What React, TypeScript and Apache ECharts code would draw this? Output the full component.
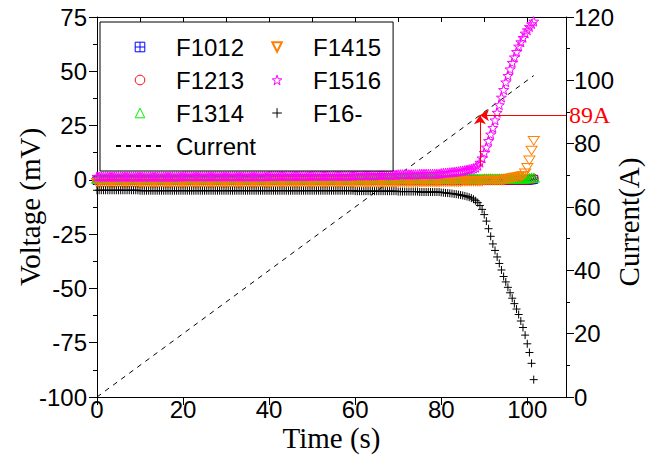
import React, { useEffect, useRef } from "react";
import * as echarts from "echarts";

// ---- data -------------------------------------------------------------
// Voltage samples (mV), one every SAMPLE_STEP_S seconds starting at t = 0
const SAMPLE_STEP_S = 0.5;

const f1012 = [
  -0.3, -0.3, -0.3, -0.3, -0.3, -0.3, -0.3, -0.3, -0.3, -0.3, // 0 s
  -0.3, -0.3, -0.3, -0.3, -0.3, -0.3, -0.3, -0.3, -0.3, -0.3, // 5 s
  -0.3, -0.3, -0.3, -0.3, -0.3, -0.3, -0.3, -0.3, -0.3, -0.3, // 10 s
  -0.3, -0.3, -0.3, -0.3, -0.3, -0.3, -0.3, -0.3, -0.3, -0.3, // 15 s
  -0.3, -0.3, -0.3, -0.3, -0.3, -0.3, -0.3, -0.3, -0.3, -0.3, // 20 s
  -0.3, -0.3, -0.3, -0.3, -0.3, -0.3, -0.3, -0.3, -0.3, -0.3, // 25 s
  -0.3, -0.3, -0.3, -0.3, -0.3, -0.3, -0.3, -0.3, -0.3, -0.3, // 30 s
  -0.3, -0.3, -0.3, -0.3, -0.3, -0.3, -0.3, -0.3, -0.3, -0.3, // 35 s
  -0.3, -0.3, -0.3, -0.3, -0.3, -0.3, -0.3, -0.3, -0.3, -0.3, // 40 s
  -0.3, -0.3, -0.3, -0.3, -0.3, -0.3, -0.3, -0.3, -0.3, -0.3, // 45 s
  -0.3, -0.3, -0.3, -0.3, -0.3, -0.3, -0.3, -0.3, -0.3, -0.3, // 50 s
  -0.3, -0.3, -0.3, -0.3, -0.3, -0.3, -0.3, -0.3, -0.3, -0.3, // 55 s
  -0.3, -0.3, -0.3, -0.3, -0.3, -0.3, -0.3, -0.3, -0.3, -0.3, // 60 s
  -0.3, -0.3, -0.3, -0.3, -0.3, -0.3, -0.3, -0.3, -0.3, -0.3, // 65 s
  -0.3, -0.3, -0.3, -0.3, -0.3, -0.3, -0.3, -0.3, -0.3, -0.3, // 70 s
  -0.3, -0.3, -0.3, -0.3, -0.3, -0.3, -0.3, -0.3, -0.3, -0.3, // 75 s
  -0.3, -0.3, -0.3, -0.3, -0.3, -0.3, -0.3, -0.3, -0.3, -0.3, // 80 s
  -0.3, -0.3, -0.3, -0.3, -0.3, -0.3, -0.3, -0.3, -0.3, -0.3, // 85 s
  -0.3, -0.3, -0.3, -0.3, -0.3, -0.3, -0.3, -0.3, -0.3, -0.3, // 90 s
  -0.3, -0.3, -0.3, -0.3, -0.3, -0.3, -0.3, -0.3, -0.3, -0.3, // 95 s
  -0.2, -0.1, 0, 0.2, // 100 s
];

const f1213 = [
  0.1, 0.1, 0.1, 0.1, 0.1, 0.1, 0.1, 0.1, 0.1, 0.1, // 0 s
  0.1, 0.1, 0.1, 0.1, 0.1, 0.1, 0.1, 0.1, 0.1, 0.1, // 5 s
  0.1, 0.1, 0.1, 0.1, 0.1, 0.1, 0.1, 0.1, 0.1, 0.1, // 10 s
  0.1, 0.1, 0.1, 0.1, 0.1, 0.1, 0.1, 0.1, 0.1, 0.1, // 15 s
  0.1, 0.1, 0.1, 0.1, 0.1, 0.1, 0.1, 0.1, 0.1, 0.1, // 20 s
  0.1, 0.1, 0.1, 0.1, 0.1, 0.1, 0.1, 0.1, 0.1, 0.1, // 25 s
  0.1, 0.1, 0.1, 0.1, 0.1, 0.1, 0.1, 0.1, 0.1, 0.1, // 30 s
  0.1, 0.1, 0.1, 0.1, 0.1, 0.1, 0.1, 0.1, 0.1, 0.1, // 35 s
  0.1, 0.1, 0.1, 0.1, 0.1, 0.1, 0.1, 0.1, 0.1, 0.1, // 40 s
  0.1, 0.1, 0.1, 0.1, 0.1, 0.1, 0.1, 0.1, 0.1, 0.1, // 45 s
  0.1, 0.1, 0.1, 0.1, 0.1, 0.1, 0.1, 0.1, 0.1, 0.1, // 50 s
  0.1, 0.1, 0.1, 0.1, 0.1, 0.1, 0.1, 0.1, 0.1, 0.1, // 55 s
  0.1, 0.1, 0.1, 0.1, 0.1, 0.1, 0.1, 0.1, 0.1, 0.1, // 60 s
  0.1, 0.1, 0.1, 0.1, 0.1, 0.1, 0.1, 0.1, 0.1, 0.1, // 65 s
  0.1, 0.1, 0.1, 0.1, 0.1, 0.1, 0.1, 0.1, 0.1, 0.1, // 70 s
  0.1, 0.1, 0.1, 0.1, 0.1, 0.1, 0.1, 0.1, 0.1, 0.1, // 75 s
  0.1, 0.1, 0.1, 0.1, 0.1, 0.1, 0.1, 0.1, 0.1, 0.1, // 80 s
  0.1, 0.1, 0.1, 0.1, 0.1, 0.1, 0.1, 0.1, 0.1, 0.1, // 85 s
  0.1, 0.1, 0.1, 0.1, 0.1, 0.1, 0.1, 0.1, 0.1, 0.1, // 90 s
  0.1, 0.1, 0.1, 0.1, 0.1, 0.1, 0.1, 0.1, 0.1, 0.1, // 95 s
  0.1, 0.2, 0.3, 0.5, // 100 s
];

const f1314 = [
  0.5, 0.5, 0.5, 0.5, 0.5, 0.5, 0.5, 0.5, 0.5, 0.5, // 0 s
  0.5, 0.5, 0.5, 0.5, 0.5, 0.5, 0.5, 0.5, 0.5, 0.5, // 5 s
  0.5, 0.5, 0.5, 0.5, 0.5, 0.5, 0.5, 0.5, 0.5, 0.5, // 10 s
  0.5, 0.5, 0.5, 0.5, 0.5, 0.5, 0.5, 0.5, 0.5, 0.5, // 15 s
  0.5, 0.5, 0.5, 0.5, 0.5, 0.5, 0.5, 0.5, 0.5, 0.5, // 20 s
  0.5, 0.5, 0.5, 0.5, 0.5, 0.5, 0.5, 0.5, 0.5, 0.5, // 25 s
  0.5, 0.5, 0.5, 0.5, 0.5, 0.5, 0.5, 0.5, 0.5, 0.5, // 30 s
  0.5, 0.5, 0.5, 0.5, 0.5, 0.5, 0.5, 0.5, 0.5, 0.5, // 35 s
  0.5, 0.5, 0.5, 0.5, 0.5, 0.5, 0.5, 0.5, 0.5, 0.5, // 40 s
  0.5, 0.5, 0.5, 0.5, 0.5, 0.5, 0.5, 0.5, 0.5, 0.5, // 45 s
  0.5, 0.5, 0.5, 0.5, 0.5, 0.5, 0.5, 0.5, 0.5, 0.5, // 50 s
  0.5, 0.5, 0.5, 0.5, 0.5, 0.5, 0.5, 0.5, 0.5, 0.5, // 55 s
  0.5, 0.5, 0.5, 0.5, 0.5, 0.5, 0.5, 0.5, 0.5, 0.5, // 60 s
  0.5, 0.5, 0.5, 0.5, 0.5, 0.5, 0.5, 0.5, 0.5, 0.5, // 65 s
  0.5, 0.5, 0.5, 0.5, 0.5, 0.5, 0.5, 0.5, 0.5, 0.5, // 70 s
  0.5, 0.5, 0.5, 0.5, 0.5, 0.5, 0.5, 0.5, 0.5, 0.5, // 75 s
  0.5, 0.5, 0.5, 0.5, 0.5, 0.5, 0.5, 0.5, 0.5, 0.5, // 80 s
  0.5, 0.5, 0.5, 0.5, 0.5, 0.5, 0.5, 0.5, 0.5, 0.5, // 85 s
  0.6, 0.6, 0.6, 0.6, 0.6, 0.6, 0.6, 0.6, 0.6, 0.6, // 90 s
  0.6, 0.6, 0.6, 0.6, 0.6, 0.6, 0.6, 0.6, 0.6, 0.6, // 95 s
  0.7, 0.8, 0.9, 1.0, // 100 s
];

const f1415 = [
  -1.4, -1.4, -1.4, -1.4, -1.4, -1.4, -1.4, -1.4, -1.4, -1.4, // 0 s
  -1.4, -1.4, -1.4, -1.4, -1.4, -1.4, -1.4, -1.4, -1.4, -1.4, // 5 s
  -1.4, -1.4, -1.4, -1.4, -1.4, -1.4, -1.4, -1.4, -1.4, -1.4, // 10 s
  -1.4, -1.4, -1.4, -1.4, -1.4, -1.4, -1.4, -1.4, -1.4, -1.4, // 15 s
  -1.4, -1.4, -1.4, -1.4, -1.4, -1.4, -1.4, -1.4, -1.4, -1.4, // 20 s
  -1.4, -1.4, -1.4, -1.4, -1.4, -1.4, -1.4, -1.4, -1.4, -1.4, // 25 s
  -1.4, -1.4, -1.4, -1.4, -1.4, -1.4, -1.4, -1.4, -1.4, -1.4, // 30 s
  -1.4, -1.4, -1.4, -1.4, -1.4, -1.4, -1.4, -1.4, -1.4, -1.4, // 35 s
  -1.3, -1.3, -1.3, -1.3, -1.3, -1.3, -1.3, -1.3, -1.3, -1.3, // 40 s
  -1.3, -1.3, -1.3, -1.3, -1.3, -1.3, -1.3, -1.3, -1.3, -1.3, // 45 s
  -1.3, -1.3, -1.3, -1.3, -1.3, -1.3, -1.3, -1.3, -1.3, -1.3, // 50 s
  -1.3, -1.3, -1.3, -1.3, -1.3, -1.3, -1.3, -1.3, -1.3, -1.3, // 55 s
  -1.3, -1.3, -1.3, -1.3, -1.3, -1.3, -1.3, -1.3, -1.3, -1.3, // 60 s
  -1.3, -1.3, -1.3, -1.3, -1.3, -1.3, -1.3, -1.3, -1.3, -1.3, // 65 s
  -1.1, -1.1, -1.1, -1.1, -1.1, -1.1, -1.1, -1.1, -1.1, -1.1, // 70 s
  -1.1, -1.1, -1.1, -1.1, -1.1, -1.1, -1.1, -1.1, -1.1, -1.1, // 75 s
  -1.0, -1.0, -1.0, -1.0, -1.0, -1.0, -1.0, -1.0, -1.0, -1.0, // 80 s
  -0.7, -0.7, -0.7, -0.7, -0.7, -0.7, -0.7, -0.7, -0.7, -0.7, // 85 s
  -0.3, -0.3, -0.3, -0.3, -0.3, -0.3, -0.3, -0.3, -0.3, -0.3, // 90 s
  0.2, 0.4, 0.6, 0.8, 1.0, 1.2, 1.4, 1.6, 1.9, 3.0, // 95 s
  5.5, 9.0, 13.5, 18.0, // 100 s
];

const f1516 = [
  1.5, 1.5, 1.5, 1.5, 1.5, 1.5, 1.5, 1.5, 1.5, 1.5, // 0 s
  1.5, 1.5, 1.5, 1.5, 1.5, 1.5, 1.5, 1.5, 1.5, 1.5, // 5 s
  1.5, 1.5, 1.5, 1.5, 1.5, 1.5, 1.5, 1.5, 1.5, 1.5, // 10 s
  1.5, 1.5, 1.5, 1.5, 1.5, 1.5, 1.5, 1.5, 1.5, 1.5, // 15 s
  1.6, 1.6, 1.6, 1.6, 1.6, 1.6, 1.6, 1.6, 1.6, 1.6, // 20 s
  1.6, 1.6, 1.6, 1.6, 1.6, 1.6, 1.6, 1.6, 1.6, 1.6, // 25 s
  1.6, 1.6, 1.6, 1.6, 1.6, 1.6, 1.6, 1.6, 1.6, 1.6, // 30 s
  1.6, 1.6, 1.6, 1.6, 1.6, 1.6, 1.6, 1.6, 1.6, 1.6, // 35 s
  1.8, 1.8, 1.8, 1.8, 1.8, 1.8, 1.8, 1.8, 1.8, 1.8, // 40 s
  1.8, 1.8, 1.8, 1.8, 1.8, 1.8, 1.8, 1.8, 1.8, 1.8, // 45 s
  1.9, 1.9, 1.9, 1.9, 1.9, 1.9, 1.9, 1.9, 1.9, 1.9, // 50 s
  1.9, 1.9, 1.9, 1.9, 1.9, 1.9, 1.9, 1.9, 1.9, 1.9, // 55 s
  2.1, 2.1, 2.1, 2.1, 2.1, 2.1, 2.1, 2.1, 2.1, 2.1, // 60 s
  2.3, 2.3, 2.3, 2.3, 2.3, 2.3, 2.3, 2.3, 2.3, 2.3, // 65 s
  2.5, 2.5, 2.5, 2.5, 2.5, 2.5, 2.5, 2.5, 2.5, 2.5, // 70 s
  2.7, 2.7, 2.7, 2.7, 2.7, 2.7, 2.7, 2.7, 2.7, 2.7, // 75 s
  3.0, 3.1, 3.2, 3.3, 3.4, 3.5, 3.6, 3.8, 3.9, 4.1, // 80 s
  4.2, 4.4, 4.6, 4.8, 5.0, 5.3, 5.7, 6.6, 8.0, 10.0, // 85 s
  12.5, 15.0, 18.0, 21.0, 24.0, 27.5, 31.0, 34.5, 38.0, 41.5, // 90 s
  45.0, 48.0, 51.0, 54.0, 56.5, 59.0, 61.5, 63.5, 65.5, 67.5, // 95 s
  69.0, 70.5, 71.8, 73.0, // 100 s
];

const f16minus = [
  -4.8, -4.8, -4.8, -4.8, -4.8, -4.8, -4.8, -4.8, -4.8, -4.8, // 0 s
  -4.8, -4.8, -4.8, -4.8, -4.8, -4.8, -4.8, -4.8, -4.8, -4.8, // 5 s
  -5.0, -5.0, -5.0, -5.0, -5.0, -5.0, -5.0, -5.0, -5.0, -5.0, // 10 s
  -5.0, -5.0, -5.0, -5.0, -5.0, -5.0, -5.0, -5.0, -5.0, -5.0, // 15 s
  -5.0, -5.0, -5.0, -5.0, -5.0, -5.0, -5.0, -5.0, -5.0, -5.0, // 20 s
  -5.0, -5.0, -5.0, -5.0, -5.0, -5.0, -5.0, -5.0, -5.0, -5.0, // 25 s
  -5.0, -5.0, -5.0, -5.0, -5.0, -5.0, -5.0, -5.0, -5.0, -5.0, // 30 s
  -5.0, -5.0, -5.0, -5.0, -5.0, -5.0, -5.0, -5.0, -5.0, -5.0, // 35 s
  -5.0, -5.0, -5.0, -5.0, -5.0, -5.0, -5.0, -5.0, -5.0, -5.0, // 40 s
  -5.0, -5.0, -5.0, -5.0, -5.0, -5.0, -5.0, -5.0, -5.0, -5.0, // 45 s
  -5.0, -5.0, -5.0, -5.0, -5.0, -5.0, -5.0, -5.0, -5.0, -5.0, // 50 s
  -5.0, -5.0, -5.0, -5.0, -5.0, -5.0, -5.0, -5.0, -5.0, -5.0, // 55 s
  -5.2, -5.2, -5.2, -5.2, -5.2, -5.2, -5.2, -5.2, -5.2, -5.2, // 60 s
  -5.2, -5.2, -5.2, -5.2, -5.2, -5.2, -5.2, -5.2, -5.2, -5.2, // 65 s
  -5.4, -5.4, -5.4, -5.4, -5.4, -5.4, -5.4, -5.4, -5.4, -5.4, // 70 s
  -5.6, -5.6, -5.6, -5.6, -5.6, -5.6, -5.6, -5.6, -5.6, -5.6, // 75 s
  -5.8, -5.9, -6.0, -6.1, -6.2, -6.3, -6.5, -6.6, -6.8, -7.0, // 80 s
  -7.2, -7.4, -7.7, -8.0, -8.4, -8.9, -9.6, -10.5, -11.8, -13.6, // 85 s
  -16.0, -19.0, -22.5, -26.0, -29.5, -32.5, -35.5, -38.5, -41.5, -44.5, // 90 s
  -47.0, -49.5, -52.0, -54.5, -57.0, -59.5, -62.0, -65.0, -68.0, -71.5, // 95 s
  -75.5, -79.5, -84.5, -92.0, // 100 s
];

// Current ramp (A) vs time (s)
const currentTimes = [0, 101.5];
const currentValues = [0, 101.5];

// 89 A annotation (time s, current A)
const markTime = 89;
const markCurrent = 89;
const markStartCurrent = 73;

// Axis ranges and ticks
const X_MAX = 109;
const X_MAJOR = [0, 20, 40, 60, 80, 100];
const X_MINOR = [10, 30, 50, 70, 90];
const X_TOP = [10, 20, 30, 40, 50, 60, 70, 80, 90, 100];
const V_MIN = -100;
const V_MAX = 75;
const V_STEP = 25;
const I_MIN = 0;
const I_MAX = 120;
const I_STEP = 20;

const legendOrder = ["F1012", "F1415", "F1213", "F1516", "F1314", "F16-", "Current"];

// ---- styling ----------------------------------------------------------
const SANS = '"Liberation Sans", Arial, Helvetica, sans-serif';
const SERIF = '"Liberation Serif", "Times New Roman", Times, serif';

const SYM_BOXPLUS = "path://M0,0 L10,0 L10,10 L0,10 Z M5,0 L5,10 M0,5 L10,5";
const SYM_DOWNTRI = "path://M0,0 L10,0 L5,8.7 Z";
const SYM_UPTRI = "path://M5,0 L10,8.7 L0,8.7 Z";
const SYM_STAR =
  "path://M10,0 L12.35,6.76 L19.51,6.91 L13.8,11.24 L15.88,18.09 L10,14 L4.12,18.09 L6.2,11.24 L0.49,6.91 L7.65,6.76 Z";
const SYM_PLUS = "path://M5,0 L5,10 M0,5 L10,5";

function toPairs(values: number[]) {
  return values.map((v, i) => [i * SAMPLE_STEP_S, v]);
}

function markerSeries(name: string, values: number[], symbol: string, size: number | number[], color: string) {
  return {
    name,
    type: "line",
    xAxisIndex: 0,
    yAxisIndex: 0,
    data: toPairs(values),
    symbol,
    symbolSize: size,
    showSymbol: true,
    showAllSymbol: true,
    symbolKeepAspect: true,
    lineStyle: { width: 0, opacity: 0 },
    itemStyle: { color: "transparent", borderColor: color, borderWidth: 1 },
    emphasis: { disabled: true },
    silent: true,
  };
}

const axisLineStyle = { show: true, onZero: false, lineStyle: { color: "#000", width: 1 } };
const tickLineStyle = { color: "#000", width: 1 };

export default function App() {
  const ref = useRef<HTMLDivElement>(null);

  useEffect(() => {
    document.body.style.margin = "0";
    if (!ref.current) return;
    const chart = echarts.init(ref.current, null, { renderer: "svg" });

    const option: any = {
      animation: false,
      backgroundColor: "#ffffff",
      grid: {
        left: 97,
        top: 17,
        right: 81,
        bottom: 65,
        containLabel: false,
        outerBoundsMode: "none",
      },
      xAxis: [
        {
          type: "value",
          position: "bottom",
          min: 0,
          max: X_MAX,
          axisLine: axisLineStyle,
          axisTick: { show: true, inside: false, length: 8, customValues: X_MAJOR, lineStyle: tickLineStyle },
          axisLabel: {
            show: true,
            customValues: X_MAJOR,
            fontFamily: SANS,
            fontSize: 24,
            lineHeight: 20,
            color: "#000",
            margin: 2,
          },
          splitLine: { show: false },
          name: "Time (s)",
          nameLocation: "middle",
          nameGap: 28,
          nameMoveOverlap: false,
          nameTextStyle: { fontFamily: SERIF, fontSize: 29, lineHeight: 26, color: "#000" },
        },
        {
          type: "value",
          position: "bottom",
          min: 0,
          max: X_MAX,
          axisLine: { show: false },
          axisTick: { show: true, inside: false, length: 4, customValues: X_MINOR, lineStyle: tickLineStyle },
          axisLabel: { show: false },
          splitLine: { show: false },
        },
        {
          type: "value",
          position: "top",
          min: 0,
          max: X_MAX,
          axisLine: axisLineStyle,
          axisTick: { show: true, inside: true, length: 5, customValues: X_TOP, lineStyle: tickLineStyle },
          axisLabel: { show: false },
          splitLine: { show: false },
        },
      ],
      yAxis: [
        {
          type: "value",
          position: "left",
          min: V_MIN,
          max: V_MAX,
          interval: V_STEP,
          axisLine: axisLineStyle,
          axisTick: { show: true, inside: false, length: 8, lineStyle: tickLineStyle },
          minorTick: { show: true, splitNumber: 2, length: 4, lineStyle: tickLineStyle },
          axisLabel: { fontFamily: SANS, fontSize: 24, color: "#000", margin: 10 },
          splitLine: { show: false },
          name: "Voltage (mV)",
          nameLocation: "middle",
          nameGap: 53,
          nameMoveOverlap: false,
          nameTextStyle: { fontFamily: SERIF, fontSize: 29, color: "#000" },
        },
        {
          type: "value",
          position: "right",
          min: I_MIN,
          max: I_MAX,
          interval: I_STEP,
          axisLine: axisLineStyle,
          axisTick: { show: true, inside: false, length: 8, lineStyle: tickLineStyle },
          minorTick: { show: true, splitNumber: 2, length: 4, lineStyle: tickLineStyle },
          axisLabel: { fontFamily: SANS, fontSize: 24, color: "#000", margin: 8 },
          splitLine: { show: false },
          name: "Current(A)",
          nameLocation: "middle",
          nameGap: 48,
          nameMoveOverlap: false,
          nameTextStyle: { fontFamily: SERIF, fontSize: 29, color: "#000", padding: [0, 30, 0, 0] },
        },
      ],
      legend: {
        show: true,
        left: 100,
        top: 22,
        width: 300,
        orient: "horizontal",
        padding: [13, 12, 13, 15],
        itemGap: 9,
        itemWidth: 48,
        itemHeight: 12,
        borderColor: "#000",
        borderWidth: 1,
        backgroundColor: "#fff",
        selectedMode: false,
        itemStyle: { borderWidth: 1 },
        textStyle: { fontFamily: SANS, fontSize: 24, color: "#000", lineHeight: 20, padding: [0, 0, 0, 7] },
        data: legendOrder.map((n) => {
          if (n === "F1415") return { name: n, itemStyle: { borderWidth: 2 } };
          if (n === "Current")
            return { name: n, itemStyle: { color: "transparent", borderColor: "transparent", opacity: 0 } };
          return { name: n };
        }),
      },
      series: [
        markerSeries("F1012", f1012, SYM_BOXPLUS, 8, "#0000ff"),
        markerSeries("F1213", f1213, "circle", 9, "#ff0000"),
        markerSeries("F1314", f1314, SYM_UPTRI, [11, 10], "#00ee00"),
        markerSeries("F1415", f1415, SYM_DOWNTRI, [11, 10], "#ff8000"),
        markerSeries("F1516", f1516, SYM_STAR, 10, "#ff00ff"),
        markerSeries("F16-", f16minus, SYM_PLUS, 8, "#000000"),
        {
          name: "Current",
          type: "line",
          xAxisIndex: 0,
          yAxisIndex: 1,
          data: currentTimes.map((t, i) => [t, currentValues[i]]),
          symbol: "none",
          showSymbol: false,
          lineStyle: { color: "#000", width: 1, type: [5, 5] },
          itemStyle: { color: "#000" },
          emphasis: { disabled: true },
          silent: true,
          markLine: {
            silent: true,
            symbol: ["none", "arrow"],
            symbolSize: 9,
            animation: false,
            lineStyle: { color: "#ff0000", width: 1, type: "solid" },
            label: { show: false },
            emphasis: { disabled: true },
            data: [
              [
                {
                  coord: [X_MAX, markCurrent],
                  label: {
                    show: true,
                    position: "start",
                    formatter: "89A",
                    color: "#ff0000",
                    fontFamily: SERIF,
                    fontSize: 24,
                    distance: 3,
                  },
                },
                { coord: [markTime, markCurrent] },
              ],
              [{ coord: [markTime, markStartCurrent], label: { show: false } }, { coord: [markTime, markCurrent] }],
            ],
          },
        },
      ],
    };

    chart.setOption(option);
    return () => chart.dispose();
  }, []);

  return <div ref={ref} style={{ width: 647, height: 462 }} />;
}
